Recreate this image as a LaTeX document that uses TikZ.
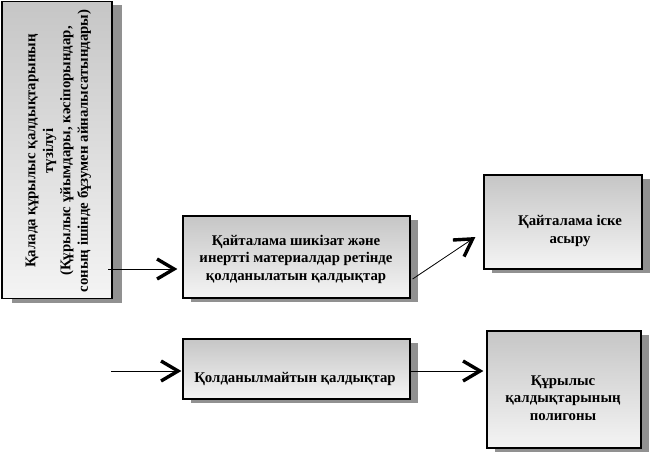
\documentclass[tikz,border=0pt]{standalone}
\usepackage{fontspec}
\setmainfont{Liberation Serif}
\usetikzlibrary{arrows.meta,shadows,calc}
\definecolor{shadowgray}{RGB}{145,145,145}
\definecolor{boxtop}{RGB}{198,198,198}
\definecolor{boxbot}{RGB}{244,244,244}
\tikzset{
  panel/.style={draw=black, line width=1.2pt, top color=boxtop, bottom color=boxbot,
    inner sep=0pt,
    drop shadow={shadow xshift=#1, shadow yshift=-4pt, fill=shadowgray, opacity=1}},
  panel/.default=8pt,
  boxtext/.style={font=\bfseries\fontsize{14.8}{17.5}\selectfont, align=center, inner sep=0pt},
  conn/.style={line width=0.8pt, -{Straight Barb[length=17pt,width=20pt,line width=3.4pt]}},
}
\begin{document}
\begin{tikzpicture}[x=1pt,y=-1pt]
\fill[white] (0,0) rectangle (653,452);
\useasboundingbox (0,0) rectangle (653,452);
% boxes
\node[panel=10pt, minimum width=110pt, minimum height=297pt] (src) at (57,150) {};
\node[panel, minimum width=227pt, minimum height=82pt] (boxA) at (296.5,257) {};
\node[panel, minimum width=158pt, minimum height=94pt] (boxB) at (563,222) {};
\node[panel, minimum width=227pt, minimum height=60pt] (boxC) at (296.5,369) {};
\node[panel, minimum width=154pt, minimum height=117pt] (boxD) at (564,389.5) {};
% texts
\node[boxtext, rotate=90] (srctext) at (58.5,151) {Қалада құрылыс қалдықтарының\\түзілуі\\(Құрылыс ұйымдары, кәсіпорындар,\\соның ішінде бұзумен айналысатындары)};
\node[boxtext] (textA) at (296,259) {Қайталама шикізат және\\инертті материалдар ретінде\\қолданылатын қалдықтар};
\node[boxtext] (textB) at (570,231) {Қайталама іске\\асыру};
\node[boxtext] (textC) at (295,379) {Қолданылмайтын қалдықтар};
\node[boxtext] (textD) at (563,398) {Құрылыс\\қалдықтарының\\полигоны};
% connectors
\coordinate (in1) at (108,269);
\draw[conn, shorten >=5pt] (in1) -- (in1 -| boxA.west);
\draw[conn] ([shift={(2,22)}]boxA.east) -- ([shift={(-8,15)}]boxB.west);
\coordinate (in2) at (111,371);
\draw[conn, shorten >=1pt] (in2) -- (in2 -| boxC.west);
\coordinate (c2) at ([shift={(0,2)}]boxC.east);
\draw[conn, shorten >=3pt] (c2) -- (c2 -| boxD.west);
\end{tikzpicture}
\end{document}
